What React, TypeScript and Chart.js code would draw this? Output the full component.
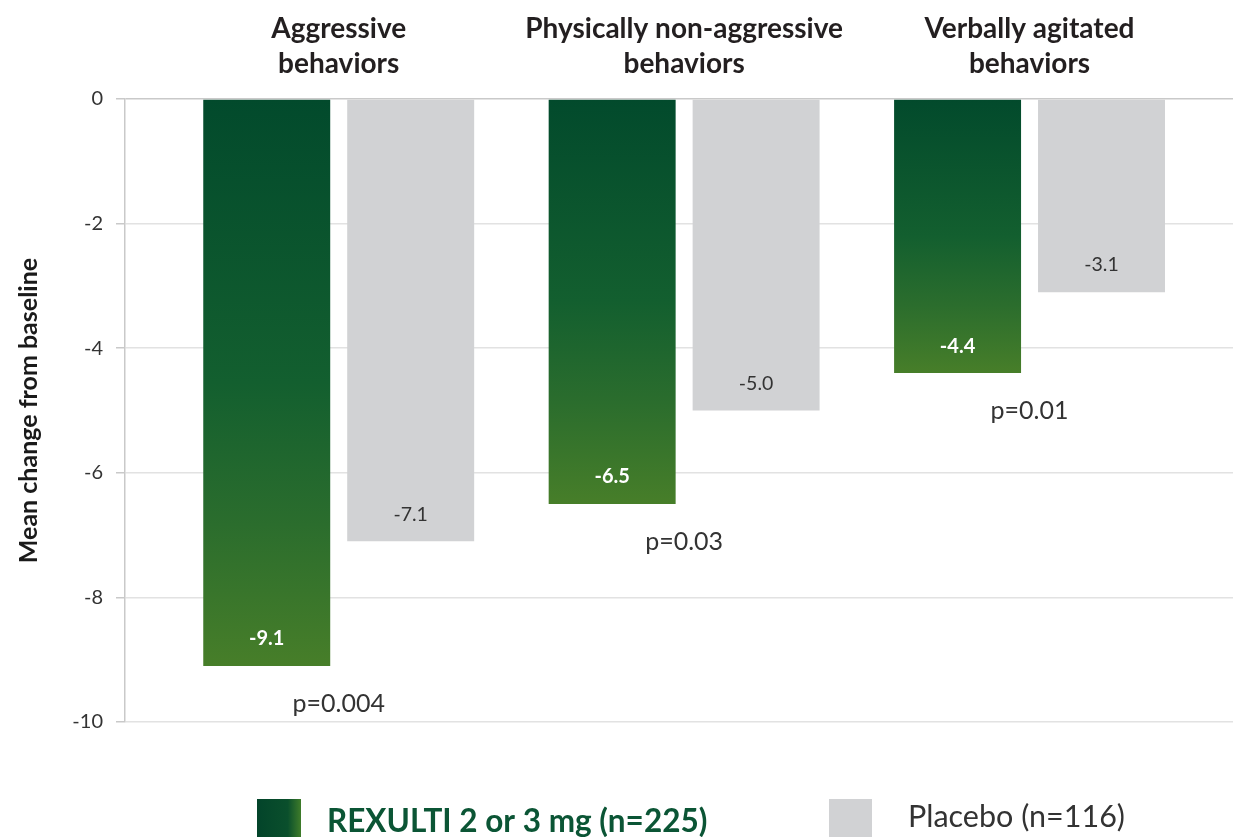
import React, { useEffect, useRef } from "react";
import { Chart, registerables } from "chart.js";

Chart.register(...registerables);

const categories: string[][] = [
  ["Aggressive", "behaviors"],
  ["Physically non-aggressive", "behaviors"],
  ["Verbally agitated", "behaviors"],
];
const rexultiValues = [-9.1, -6.5, -4.4];
const placeboValues = [-7.1, -5.0, -3.1];
const pValueLabels = ["p=0.004", "p=0.03", "p=0.01"];
const seriesLabels = ["REXULTI 2 or 3 mg (n=225)", "Placebo (n=116)"];
const yMin = -10;
const yMax = 0;
const yStep = 2;
const yTitle = "Mean change from baseline";

const FONT = "Lato, 'Open Sans', sans-serif";
const PLACEBO_COLOR = "#d1d2d4";

function greenGradient(ctx: CanvasRenderingContext2D, top: number, bottom: number) {
  const g = ctx.createLinearGradient(0, top, 0, bottom);
  g.addColorStop(0, "#024a2c");
  g.addColorStop(0.5, "#135f2f");
  g.addColorStop(0.75, "#2b6d2d");
  g.addColorStop(1, "#477e29");
  return g;
}

const labelsPlugin = {
  id: "customLabels",
  afterDatasetsDraw(chart: any) {
    const ctx: CanvasRenderingContext2D = chart.ctx;
    const xs = chart.scales.x;
    const ys = chart.scales.y;
    ctx.save();
    ctx.textAlign = "center";
    ctx.textBaseline = "middle";
    chart.data.datasets.forEach((ds: any, di: number) => {
      const meta = chart.getDatasetMeta(di);
      meta.data.forEach((bar: any, i: number) => {
        const v = ds.data[i].y;
        if (di === 0) {
          ctx.fillStyle = "#ffffff";
          ctx.font = `bold 20px ${FONT}`;
        } else {
          ctx.fillStyle = "#333333";
          ctx.font = `19.5px ${FONT}`;
        }
        ctx.fillText(v.toFixed(1), bar.x, bar.y - 27);
      });
    });
    ctx.fillStyle = "#333333";
    ctx.font = `25px ${FONT}`;
    pValueLabels.forEach((p, i) => {
      const x = xs.getPixelForValue(i);
      const y = ys.getPixelForValue(rexultiValues[i]) + 38;
      ctx.fillText(p, x, y);
    });

    // legend
    ctx.textAlign = "left";
    ctx.textBaseline = "alphabetic";
    const lg = ctx.createLinearGradient(257, 0, 301, 0);
    lg.addColorStop(0, "#03442a");
    lg.addColorStop(0.7, "#0a4f2c");
    lg.addColorStop(1, "#3f7c2a");
    ctx.fillStyle = lg;
    ctx.fillRect(257, 799, 44, 46);
    ctx.fillStyle = "#0b5535";
    ctx.font = `bold 31.5px ${FONT}`;
    ctx.fillText(seriesLabels[0], 327, 832);
    ctx.fillStyle = PLACEBO_COLOR;
    ctx.fillRect(829, 799, 43, 46);
    ctx.fillStyle = "#333333";
    ctx.font = `30.5px ${FONT}`;
    ctx.fillText(seriesLabels[1], 908, 827);
    ctx.restore();
  },
};

export default function App() {
  const ref = useRef<HTMLCanvasElement>(null);
  useEffect(() => {
    document.body.style.margin = "0";
    const canvas = ref.current!;
    const chart = new Chart(canvas, {
      type: "bar",
      data: {
        datasets: [
          {
            label: seriesLabels[0],
            data: rexultiValues.map((v, i) => ({ x: i, y: v })),
            backgroundColor: (c: any) => {
              const ch = c.chart;
              const ys = ch.scales && ch.scales.y;
              if (!ys || !ch.chartArea || c.dataIndex === undefined) return "#135f2f";
              const top = ys.getPixelForValue(0);
              const bottom = ys.getPixelForValue(rexultiValues[c.dataIndex]);
              if (!isFinite(top) || !isFinite(bottom) || top === bottom) return "#135f2f";
              return greenGradient(ch.ctx, top, bottom);
            },
            borderWidth: 0,
            categoryPercentage: 0.8335,
            barPercentage: 0.882,
          },
          {
            label: seriesLabels[1],
            data: placeboValues.map((v, i) => ({ x: i, y: v })),
            backgroundColor: PLACEBO_COLOR,
            borderWidth: 0,
            categoryPercentage: 0.8335,
            barPercentage: 0.882,
          },
        ],
      },
      options: {
        responsive: false,
        animation: false,
        layout: { padding: { top: 0, bottom: 115, left: 0, right: 0 } },
        plugins: {
          legend: { display: false },
          tooltip: { enabled: false },
        },
        scales: {
          x: {
            type: "linear",
            position: "top",
            offset: false,
            min: -0.6187,
            max: 2.589,
            grid: { display: false, drawTicks: false },
            border: { display: false },
            afterBuildTicks: (scale: any) => {
              scale.ticks = categories.map((_, i) => ({ value: i }));
            },
            afterFit: (scale: any) => {
              scale.height = 99;
            },
            ticks: {
              autoSkip: false,
              maxRotation: 0,
              padding: 18,
              color: "#231f20",
              font: { family: FONT, size: 28, weight: "bold", lineHeight: 1.25 },
              callback: (value: any) => categories[value as number],
            },
          },
          y: {
            min: yMin,
            max: yMax,
            afterFit: (scale: any) => {
              scale.width = 125;
            },
            ticks: {
              stepSize: yStep,
              padding: 13,
              color: "#333333",
              font: { family: FONT, size: 20 },
            },
            grid: {
              color: (c: any) => (c.tick && c.tick.value === 0 ? "#c9c9c9" : "#e2e2e2"),
              lineWidth: 1.5,
              tickLength: 9,
              tickColor: "#c9c9c9",
            },
            border: { display: true, color: "#c9c9c9", width: 1.5 },
            title: {
              display: true,
              text: yTitle,
              color: "#1a1a1a",
              font: { family: FONT, size: 25, weight: "bold" },
              padding: { top: 14, bottom: 0 },
            },
          },
        },
      },
      plugins: [labelsPlugin],
    } as any);
    return () => chart.destroy();
  }, []);
  return <canvas ref={ref} width={1233} height={837} style={{ display: "block" }} />;
}
